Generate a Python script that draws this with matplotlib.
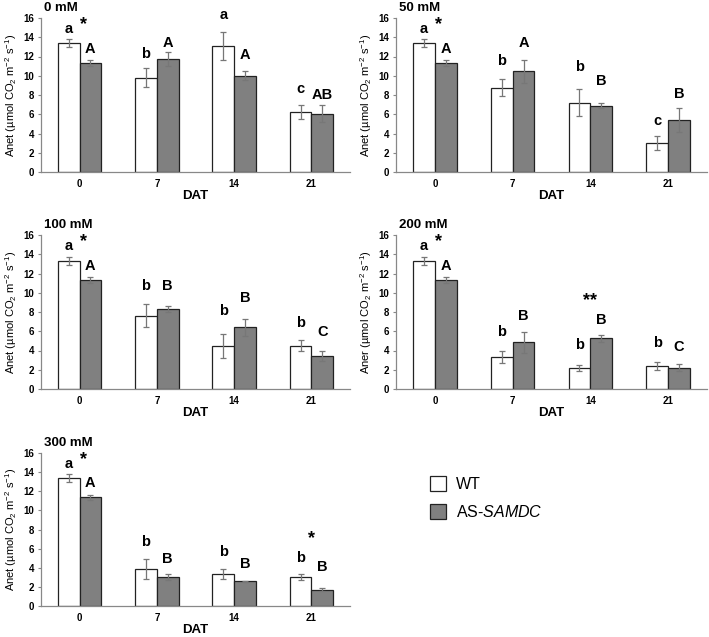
import matplotlib
matplotlib.use("Agg")
import matplotlib.pyplot as plt
from matplotlib.patches import Patch

plt.rcParams['font.family'] = ['Liberation Sans', 'DejaVu Sans']
plt.rcParams['mathtext.fontset'] = 'custom'
plt.rcParams['mathtext.rm'] = 'Liberation Sans'
plt.rcParams['mathtext.it'] = 'Liberation Sans:italic'
plt.rcParams['mathtext.bf'] = 'Liberation Sans:bold'

days = ['0', '7', '14', '21']
titles = ['0 mM', '50 mM', '100 mM', '200 mM', '300 mM']
ylabels = ['Anet', 'Anet', 'Anet', 'Aner', 'Anet']

wt_mean = [
    [13.4, 9.8, 13.1, 6.25],
    [13.4, 8.75, 7.2, 3.0],
    [13.3, 7.6, 4.5, 4.5],
    [13.3, 3.3, 2.2, 2.4],
    [13.4, 3.9, 3.35, 3.05],
]
wt_err = [
    [0.4, 1.0, 1.45, 0.7],
    [0.4, 0.9, 1.4, 0.7],
    [0.4, 1.2, 1.25, 0.6],
    [0.4, 0.65, 0.3, 0.4],
    [0.4, 1.05, 0.5, 0.3],
]
as_mean = [
    [11.35, 11.75, 10.0, 6.05],
    [11.35, 10.45, 6.9, 5.45],
    [11.3, 8.35, 6.4, 3.45],
    [11.3, 4.85, 5.25, 2.2],
    [11.35, 3.05, 2.6, 1.7],
]
as_err = [
    [0.3, 0.7, 0.45, 0.9],
    [0.3, 1.2, 0.3, 1.25],
    [0.3, 0.3, 0.9, 0.55],
    [0.3, 1.1, 0.4, 0.35],
    [0.3, 0.33, 0.05, 0.15],
]

# significance letters and the heights (data units) they sit at
wt_letters = [
    ['a', 'b', 'a', 'c'],
    ['a', 'b', 'b', 'c'],
    ['a', 'b', 'b', 'b'],
    ['a', 'b', 'b', 'b'],
    ['a', 'b', 'b', 'b'],
]
wt_letter_y = [
    [14.9, 12.3, 16.3, 8.65],
    [14.9, 11.5, 10.9, 5.3],
    [14.9, 10.7, 8.1, 6.9],
    [14.9, 5.9, 4.6, 4.75],
    [14.9, 6.7, 5.6, 5.05],
]
as_letters = [
    ['A', 'A', 'A', 'AB'],
    ['A', 'A', 'B', 'B'],
    ['A', 'B', 'B', 'C'],
    ['A', 'B', 'B', 'C'],
    ['A', 'B', 'B', 'B'],
]
as_letter_y = [
    [12.8, 13.4, 12.2, 8.0],
    [12.8, 13.4, 9.5, 8.1],
    [12.8, 10.7, 9.5, 5.9],
    [12.8, 7.6, 7.2, 4.4],
    [12.9, 4.9, 4.35, 4.1],
]
# asterisks: (panel, day index, text, height)
stars = [
    (0, 0, '*', 15.3), (1, 0, '*', 15.3), (2, 0, '*', 15.3),
    (3, 0, '*', 15.3), (4, 0, '*', 15.3),
    (3, 2, '**', 9.2), (4, 3, '*', 7.0),
]

W, H = 709, 637
fig = plt.figure(figsize=(W / 100, H / 100), dpi=100)

# axes boxes in pixels: left, top, right, bottom
boxes = [
    (41, 18, 350, 172), (396, 18, 707, 172),
    (41, 235, 350, 389), (396, 235, 707, 389),
    (41, 453, 350, 606),
]

bw = 0.28
x = list(range(len(days)))
axes = []
for i, (l, t, r, b) in enumerate(boxes):
    ax = fig.add_axes([l / W, 1 - b / H, (r - l) / W, (b - t) / H])
    axes.append(ax)
    xw = [v - bw / 2 for v in x]
    xa = [v + bw / 2 for v in x]
    ax.bar(xw, wt_mean[i], bw, color='white', edgecolor='#222222', linewidth=0.9, zorder=2)
    ax.bar(xa, as_mean[i], bw, color='#808080', edgecolor='#222222', linewidth=0.9, zorder=2)
    ax.errorbar(xw, wt_mean[i], yerr=wt_err[i], fmt='none', ecolor='#777777',
                elinewidth=0.9, capsize=2.2, capthick=0.9, zorder=3)
    ax.errorbar(xa, as_mean[i], yerr=as_err[i], fmt='none', ecolor='#777777',
                elinewidth=0.9, capsize=2.2, capthick=0.9, zorder=3)
    for j in x:
        ax.text(xw[j], wt_letter_y[i][j], wt_letters[i][j], ha='center', va='center',
                fontsize=10.5, fontweight='bold', clip_on=False)
        ax.text(xa[j], as_letter_y[i][j], as_letters[i][j], ha='center', va='center',
                fontsize=10.5, fontweight='bold', clip_on=False)
    ax.set_xlim(-0.5, 3.5)
    ax.set_ylim(0, 16)
    ax.set_yticks(range(0, 17, 2))
    ax.set_xticks(x)
    ax.set_xticklabels(days)
    for s in ['top', 'right']:
        ax.spines[s].set_visible(False)
    for s in ['left', 'bottom']:
        ax.spines[s].set_color('#888888')
        ax.spines[s].set_linewidth(0.9)
    ax.tick_params(axis='x', length=0, pad=5, labelsize=7)
    ax.tick_params(axis='y', length=2, width=0.8, color='#888888', pad=3, labelsize=7)
    for lab in ax.get_xticklabels() + ax.get_yticklabels():
        lab.set_fontweight('bold')
    ax.set_xlabel('DAT', fontsize=9.5, fontweight='bold', labelpad=0.5)
    ax.set_ylabel(ylabels[i] + ' (µmol CO$_2$ m$^{-2}$ s$^{-1}$)', fontsize=8, labelpad=3)
    ax.text(0.01, 1.065, titles[i], transform=ax.transAxes, ha='left', va='center',
            fontsize=9.5, fontweight='bold')

for p, d, s, yv in stars:
    axes[p].text(d + 0.05 if s == '*' and d == 0 else d, yv, s, ha='center', va='center',
                 fontsize=13, fontweight='bold', clip_on=False)

handles = [Patch(facecolor='white', edgecolor='#222222', linewidth=0.9),
           Patch(facecolor='#808080', edgecolor='#222222', linewidth=0.9)]
fig.legend(handles, ['WT', r'AS-$\it{SAMDC}$'], loc='upper left',
           bbox_to_anchor=(416 / W, 1 - 462 / H), frameon=False, fontsize=11.5,
           handlelength=1.0, handleheight=1.0, handletextpad=0.6, labelspacing=0.75)

fig.savefig('out.png', dpi=100)
